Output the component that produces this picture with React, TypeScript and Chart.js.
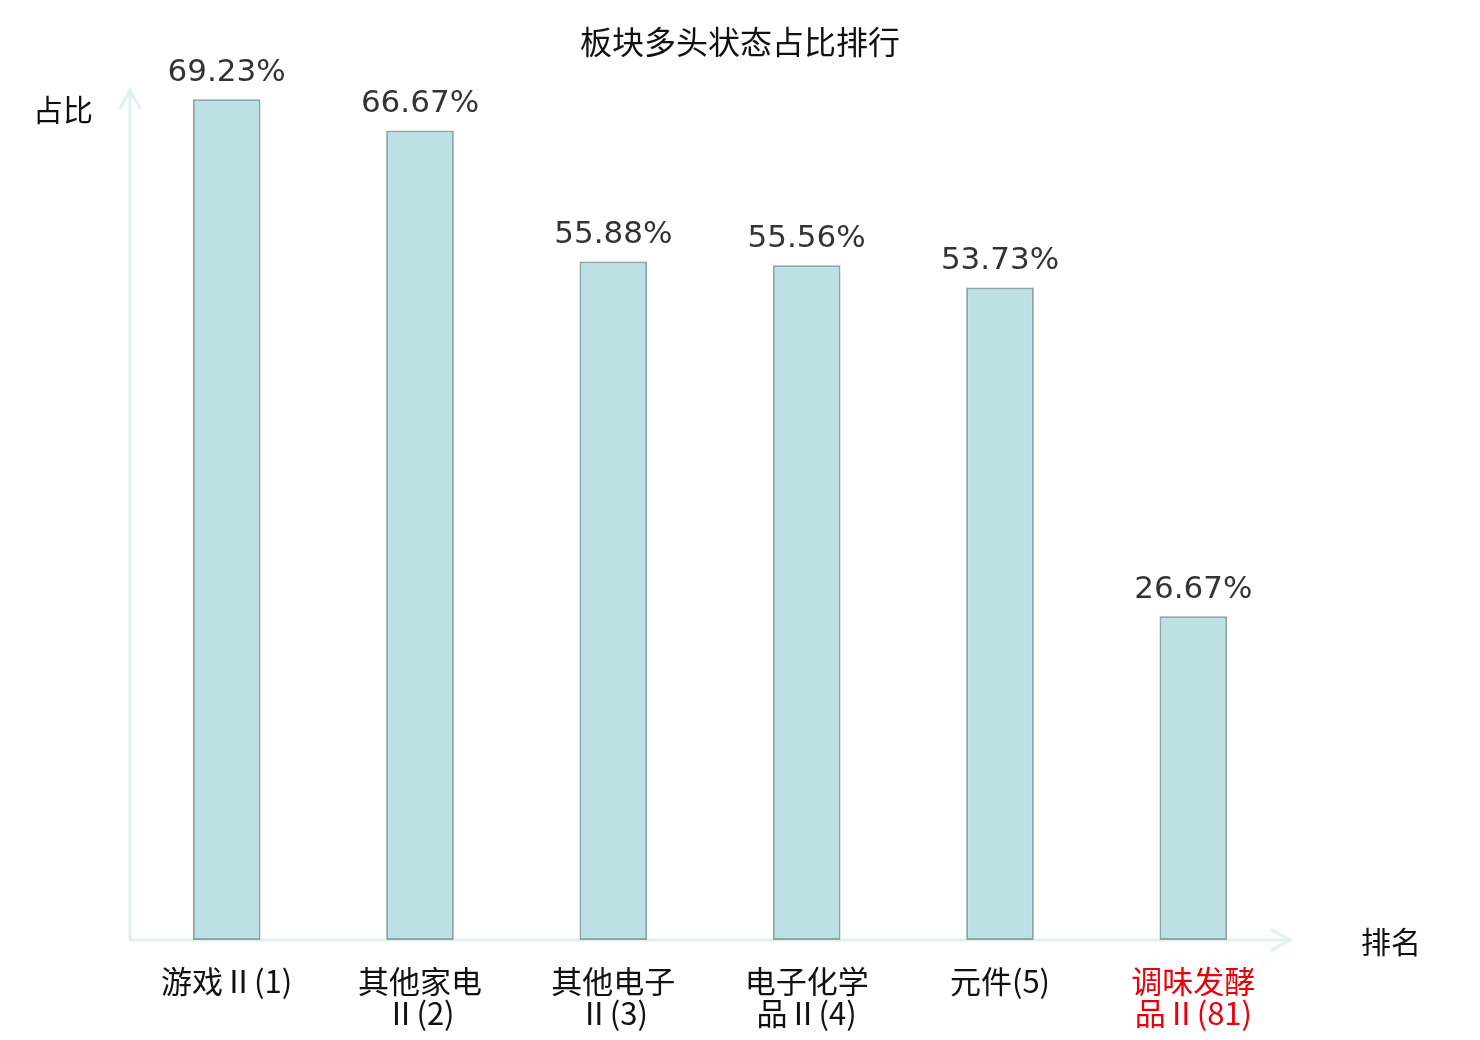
import React, { useEffect, useRef } from 'react';
import { Chart, registerables } from 'chart.js';
import type { ChartConfiguration, Plugin } from 'chart.js';

Chart.register(...registerables);

// sector names, already broken into the two lines shown under each bar
const categories: string[][] = [
  ['游戏Ⅱ(1)'],
  ['其他家电', 'Ⅱ(2)'],
  ['其他电子', 'Ⅱ(3)'],
  ['电子化学', '品Ⅱ(4)'],
  ['元件(5)'],
  ['调味发酵', '品Ⅱ(81)'],
];
const shares: number[] = [69.23, 66.67, 55.88, 55.56, 53.73, 26.67];
const highlightIndex = 5;
const chartTitle = '板块多头状态占比排行';

const AXIS_COLOR = '#dff2ef';
const CJK = '"Noto Sans CJK SC", "DejaVu Sans", sans-serif';

// axis lines with open arrow heads, the two axis names and the title
// (title drawn here so it centres on the whole canvas, not the plot area)
const axisArrows: Plugin<'bar'> = {
  id: 'axisArrows',
  beforeDatasetsDraw(chart) {
    const { ctx, chartArea } = chart;
    const { left, right, top, bottom } = chartArea;
    ctx.save();
    ctx.strokeStyle = AXIS_COLOR;
    ctx.lineWidth = 3;
    ctx.lineCap = 'round';
    ctx.beginPath();
    ctx.moveTo(left, bottom);
    ctx.lineTo(left, top);
    ctx.moveTo(left, bottom);
    ctx.lineTo(right, bottom);
    // y arrow
    ctx.moveTo(left - 10, top + 18);
    ctx.lineTo(left, top);
    ctx.lineTo(left + 10, top + 18);
    // x arrow
    ctx.moveTo(right - 18, bottom - 10);
    ctx.lineTo(right, bottom);
    ctx.lineTo(right - 18, bottom + 10);
    ctx.stroke();

    ctx.fillStyle = '#111';
    ctx.textAlign = 'center';
    ctx.textBaseline = 'middle';
    ctx.font = `32px ${CJK}`;
    ctx.fillText(chartTitle, chart.width / 2, 42);
    ctx.font = `30px ${CJK}`;
    ctx.fillText('占比', 63, top + 20);
    ctx.fillText('排名', right + 101, bottom + 2);
    ctx.restore();
  },
};

const valueLabels: Plugin<'bar'> = {
  id: 'valueLabels',
  afterDatasetsDraw(chart) {
    const { ctx } = chart;
    const meta = chart.getDatasetMeta(0);
    ctx.save();
    ctx.fillStyle = '#333';
    ctx.font = '31px "DejaVu Sans", sans-serif';
    ctx.textAlign = 'center';
    ctx.textBaseline = 'bottom';
    meta.data.forEach((bar, i) => {
      ctx.fillText(shares[i].toFixed(2) + '%', bar.x, bar.y - 11);
    });
    ctx.restore();
  },
};

const App: React.FC = () => {
  const chartRef = useRef<HTMLCanvasElement>(null);
  const chartInstanceRef = useRef<Chart | null>(null);

  useEffect(() => {
    if (!chartRef.current) return;
    if (chartInstanceRef.current) {
      chartInstanceRef.current.destroy();
    }
    const ctx = chartRef.current.getContext('2d');
    if (!ctx) return;

    const config: ChartConfiguration<'bar'> = {
      type: 'bar',
      data: {
        labels: categories,
        datasets: [
          {
            data: shares,
            backgroundColor: '#bce0e3',
            borderColor: '#8aa6a7',
            borderWidth: 2,
            borderSkipped: false,
            barPercentage: 0.35,
            categoryPercentage: 1,
          },
        ],
      },
      options: {
        responsive: false,
        devicePixelRatio: 1,
        animation: false,
        layout: {
          padding: { left: 130, right: 190, top: 90, bottom: 0 },
        },
        plugins: {
          legend: { display: false },
          tooltip: { enabled: false },
          title: { display: false },
        },
        scales: {
          x: {
            grid: { display: false },
            border: { display: false },
            ticks: {
              autoSkip: false,
              maxRotation: 0,
              minRotation: 0,
              padding: 17,
              font: { family: CJK, size: 31, lineHeight: 1.03 },
              color: (c) => (c.index === highlightIndex ? '#e8000b' : '#111'),
            },
            afterFit: (scale) => {
              scale.height = 100;
            },
          },
          y: {
            display: false,
            min: 0,
            max: 70,
          },
        },
      },
      plugins: [axisArrows, valueLabels],
    };

    chartInstanceRef.current = new Chart(ctx, config);

    return () => {
      if (chartInstanceRef.current) {
        chartInstanceRef.current.destroy();
        chartInstanceRef.current = null;
      }
    };
  }, []);

  return (
    <div style={{ position: 'absolute', left: 0, top: 0, width: 1480, height: 1040, background: '#fff' }}>
      <canvas ref={chartRef} width={1480} height={1040}></canvas>
    </div>
  );
};

export default App;
